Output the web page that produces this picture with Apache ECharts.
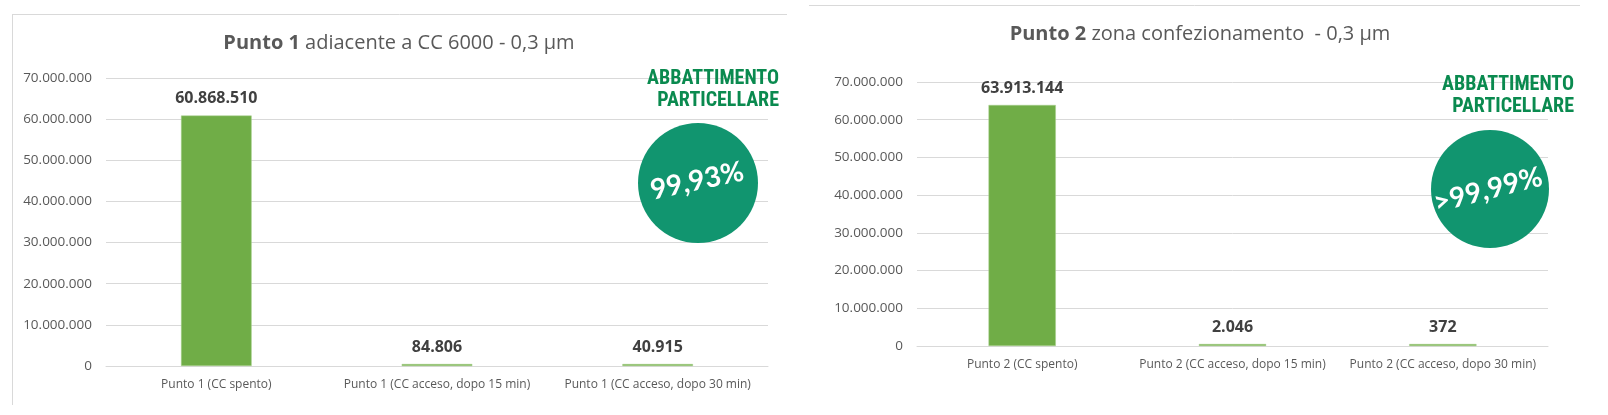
<!DOCTYPE html>
<html>
<head>
<meta charset="utf-8">
<script src="https://cdn.jsdelivr.net/npm/echarts@6/dist/echarts.min.js"></script>
<style>
html,body{margin:0;padding:0;background:#fff;}
#c{width:1608px;height:415px;}
</style>
</head>
<body>
<div id="c"></div>
<script>
var categories1 = ['Punto 1 (CC spento)', 'Punto 1 (CC acceso, dopo 15 min)', 'Punto 1 (CC acceso, dopo 30 min)'];
var values1 = [60868510, 84806, 40915];
var categories2 = ['Punto 2 (CC spento)', 'Punto 2 (CC acceso, dopo 15 min)', 'Punto 2 (CC acceso, dopo 30 min)'];
var values2 = [63913144, 2046, 372];
var title1Bold = 'Punto 1', title1Rest = ' adiacente a CC 6000 - 0,3 µm';
var title2Bold = 'Punto 2', title2Rest = ' zona confezionamento  - 0,3 µm';
var badgeTitle = 'ABBATTIMENTO\nPARTICELLARE';
var badge1 = '99,93%';
var badge2 = '>99,99%';

function fmt(v){ return String(v).replace(/\B(?=(\d{3})+(?!\d))/g, '.'); }

var FONT = 'Open Sans';
var GRAY = '#595959';
var GRID = '#d9d9d9';
var BAR = '#70AD47';
var TEAL = '#11956F';
var DGREEN = '#0A8A4F';

function yAx(idx){
  return {type:'value', gridIndex:idx, min:0, max:70000000, interval:10000000,
    axisLine:{show:false}, axisTick:{show:false},
    splitLine:{lineStyle:{color:GRID, width:1}},
    axisLabel:{color:GRAY, fontSize:13.5, fontFamily:FONT, margin:14, formatter:fmt}};
}
function xAx(idx, cats){
  return {type:'category', gridIndex:idx, data:cats,
    axisLine:{lineStyle:{color:GRID}}, axisTick:{show:false},
    axisLabel:{color:GRAY, fontSize:12, fontFamily:FONT, margin:13, interval:0}};
}
function ser(idx, vals){
  return {type:'bar', xAxisIndex:idx, yAxisIndex:idx, data:vals, barWidth:'32%', barMinHeight:2,
    itemStyle:{color:BAR, borderColor:'#a9d08e', borderWidth:0.5},
    label:{show:true, position:'top', distance:9, color:'#404040', fontSize:16, fontWeight:'bold', fontFamily:FONT,
      formatter:function(p){return fmt(p.value);}}};
}

var chart = echarts.init(document.getElementById('c'));
chart.setOption({
  animation:false,
  backgroundColor:'#fff',
  title:[
    {text:'{b|'+title1Bold+'}'+title1Rest, left:394, top:28, textAlign:'center',
      textStyle:{color:GRAY, fontSize:20, fontWeight:'normal', fontFamily:FONT,
        rich:{b:{fontWeight:'bold', fontSize:20, color:GRAY, fontFamily:FONT}}}},
    {text:'{b|'+title2Bold+'}'+title2Rest, left:1195, top:19, textAlign:'center',
      textStyle:{color:GRAY, fontSize:20, fontWeight:'normal', fontFamily:FONT,
        rich:{b:{fontWeight:'bold', fontSize:20, color:GRAY, fontFamily:FONT}}}}
  ],
  grid:[
    {left:106, right:840, top:78, bottom:49},
    {left:917, right:60, top:82, bottom:69}
  ],
  xAxis:[xAx(0, categories1), xAx(1, categories2)],
  yAxis:[yAx(0), yAx(1)],
  series:[ser(0, values1), ser(1, values2)],
  graphic:[
    {type:'line', shape:{x1:12,y1:14.5,x2:787,y2:14.5}, style:{stroke:GRID, lineWidth:1}, z:-1},
    {type:'line', shape:{x1:12.5,y1:14,x2:12.5,y2:405}, style:{stroke:GRID, lineWidth:1}, z:-1},
    {type:'line', shape:{x1:809,y1:5.5,x2:1580,y2:5.5}, style:{stroke:GRID, lineWidth:1}, z:-1},
    {type:'text', x:779, y:68, style:{text:badgeTitle, fill:DGREEN, font:'bold 20px "Liberation Sans Narrow", "Roboto Condensed", sans-serif', align:'right', lineHeight:22}, z:10},
    {type:'text', x:1574, y:74, style:{text:badgeTitle, fill:DGREEN, font:'bold 20px "Liberation Sans Narrow", "Roboto Condensed", sans-serif', align:'right', lineHeight:22}, z:10},
    {type:'circle', shape:{cx:698, cy:183, r:60}, style:{fill:TEAL}, z:10},
    {type:'circle', shape:{cx:1490, cy:189, r:59}, style:{fill:TEAL}, z:10},
    {type:'text', x:697, y:181, rotation:0.21, style:{text:badge1, fill:'#fff', font:'bold 28px Lato, sans-serif', align:'center', verticalAlign:'middle'}, z:11},
    {type:'text', x:1488, y:190, rotation:0.25, style:{text:badge2, fill:'#fff', font:'bold 28px Lato, sans-serif', align:'center', verticalAlign:'middle'}, z:11}
  ]
});
</script>
</body>
</html>
